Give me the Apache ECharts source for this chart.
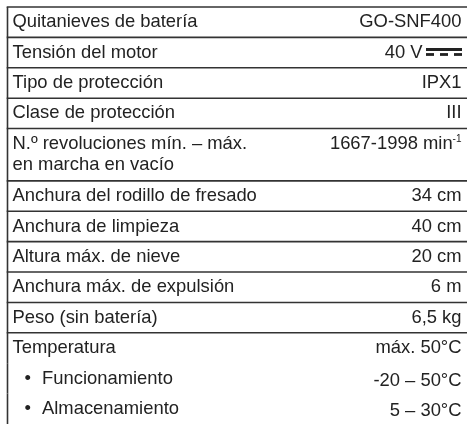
<!DOCTYPE html>
<html>
<head>
<meta charset="utf-8">
<script src="https://cdn.jsdelivr.net/npm/echarts@6/dist/echarts.min.js"></script>
<style>
html,body{margin:0;padding:0;background:#fff;}
#c{width:467px;height:424px;}
</style>
</head>
<body>
<div id="c"></div>
<script>
// ---- table content ----
const labels = [
  'Quitanieves de batería',
  'Tensión del motor',
  'Tipo de protección',
  'Clase de protección',
  'N.º revoluciones mín. – máx.\nen marcha en vacío',
  'Anchura del rodillo de fresado',
  'Anchura de limpieza',
  'Altura máx. de nieve',
  'Anchura máx. de expulsión',
  'Peso (sin batería)',
  'Temperatura',
  'Funcionamiento',
  'Almacenamiento'
];
const values = [
  'GO-SNF400',
  '40 V',
  'IPX1',
  'III',
  '1667-1998 min',
  '34 cm',
  '40 cm',
  '20 cm',
  '6 m',
  '6,5 kg',
  'máx. 50°C',
  '-20 – 50°C',
  '5 – 30°C'
];
const superscripts = ['', '', '', '', '-1', '', '', '', '', '', '', '', ''];
const dcSymbolRows = [1];
const bulletRows = [11, 12];

// ---- layout (not data) ----
const FONT_FAMILY = '"Liberation Sans", Arial, sans-serif';
const FONT = '18.4px ' + FONT_FAMILY;
const SUP_FONT = '10px ' + FONT_FAMILY;
const TEXT_COLOR = '#222222';
const RULE_COLOR = '#333333';
const LEFT_X = 7.5;
const TEXT_LEFT = 12.5;
const TEXT_RIGHT = 461.5;
const LINE_H = 21;
const EXTRA_LINE_UNITS = 0.72;

const measureCtx = document.createElement('canvas').getContext('2d');
function textWidth(t, font) { measureCtx.font = font; return measureCtx.measureText(t).width; }

const rows = [];
let acc = 0;
labels.forEach((lab, i) => {
  const n = lab.split('\n').length;
  const h = 1 + (n - 1) * EXTRA_LINE_UNITS;
  rows.push([i, acc, acc + h, n]);
  acc += h;
});
const total = acc;

const chart = echarts.init(document.getElementById('c'), null, {renderer: 'canvas'});
chart.setOption({
  animation: false,
  grid: {left: 0, right: 0, top: 7, bottom: 0},
  xAxis: {type: 'value', min: 0, max: 1, show: false},
  yAxis: {type: 'value', inverse: true, min: 0, max: total, show: false},
  series: [{
    type: 'custom',
    data: rows,
    clip: false,
    renderItem: function (params, api) {
      const i = api.value(0);
      const yTop = api.coord([0, api.value(1)])[1];
      const yBot = api.coord([0, api.value(2)])[1];
      const n = api.value(3);
      const yMid = (yTop + yBot) / 2;
      const width = api.getWidth();
      const children = [];
      const isBullet = bulletRows.indexOf(i) >= 0;
      if (!isBullet) {
        children.push({type: 'line', shape: {x1: LEFT_X - 0.8, y1: yTop, x2: width, y2: yTop},
          style: {stroke: RULE_COLOR, lineWidth: 1.6}});
      }
      children.push({type: 'line', shape: {x1: LEFT_X, y1: yTop, x2: LEFT_X, y2: yBot},
        style: {stroke: RULE_COLOR, lineWidth: 1.6}});
      if (isBullet) {
        children.push({type: 'text', style: {x: 24.5, y: yMid + 0.5, text: '•', font: FONT,
          fill: TEXT_COLOR, align: 'left', verticalAlign: 'middle'}});
      }
      children.push({type: 'text', style: {
        x: isBullet ? 42 : TEXT_LEFT, y: yMid + (isBullet ? 0.5 : 0), text: labels[i], font: FONT, fill: TEXT_COLOR,
        align: 'left', verticalAlign: 'middle', lineHeight: LINE_H}});
      const vy = yMid - (n - 1) * LINE_H / 2 + (isBullet ? 2.5 : 0);
      let right = TEXT_RIGHT;
      const sup = superscripts[i];
      if (sup) {
        children.push({type: 'text', style: {x: TEXT_RIGHT, y: vy - 5, text: sup, font: SUP_FONT,
          fill: TEXT_COLOR, align: 'right', verticalAlign: 'middle'}});
        right -= textWidth(sup, SUP_FONT);
      }
      if (dcSymbolRows.indexOf(i) >= 0) {
        const x0 = 426, x1 = 462;
        children.push({type: 'rect', shape: {x: x0, y: yMid - 4.5, width: x1 - x0, height: 3},
          style: {fill: TEXT_COLOR}});
        for (let k = 0; k < 3; k++) {
          children.push({type: 'rect', shape: {x: x0 + k * 14, y: yMid + 0.5, width: 8, height: 2.8},
            style: {fill: TEXT_COLOR}});
        }
        right = 422.5;
      }
      children.push({type: 'text', style: {x: right, y: vy, text: values[i], font: FONT,
        fill: TEXT_COLOR, align: 'right', verticalAlign: 'middle'}});
      return {type: 'group', children: children};
    }
  }]
});
</script>
</body>
</html>
